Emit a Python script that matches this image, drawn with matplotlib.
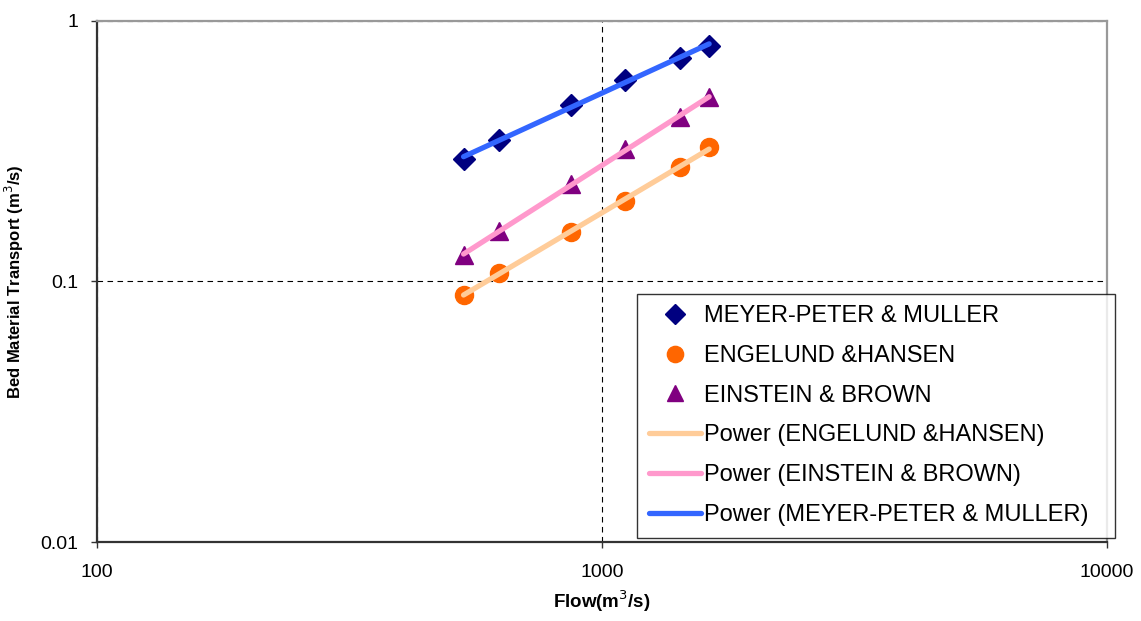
import numpy as np
import matplotlib.pyplot as plt

plt.rcParams['font.family'] = ['Liberation Sans', 'DejaVu Sans']

# Flow (m3/s) and bed material transport (m3/s) for each formula
flow = [532, 625, 868, 1111, 1428, 1630]
meyer_peter = [0.295, 0.349, 0.476, 0.594, 0.721, 0.802]
engelund = [0.0888, 0.108, 0.155, 0.204, 0.275, 0.328]
einstein = [0.126, 0.156, 0.237, 0.323, 0.428, 0.511]

fig = plt.figure(figsize=(11.41, 6.21), dpi=100)
ax = fig.add_axes([0.085, 0.1272, 0.8852, 0.839])

# Points
h_mpm, = ax.plot(flow, meyer_peter, linestyle='none', marker='D', color='#000080',
                 markersize=11, label='MEYER-PETER & MULLER')
h_eng, = ax.plot(flow, engelund, linestyle='none', marker='o', color='#FF6600',
                 markersize=13, label='ENGELUND &HANSEN')
h_ein, = ax.plot(flow, einstein, linestyle='none', marker='^', color='#800080',
                 markersize=13, label='EINSTEIN & BROWN')


# Power trendline y = a * x^b fitted in log space
def power_fit(x, y):
    b, log_a = np.polyfit(np.log(x), np.log(y), 1)
    xs = np.array([min(x), max(x)])
    return xs, np.exp(log_a) * xs ** b


x_fit, y_fit = power_fit(flow, engelund)
t_eng, = ax.plot(x_fit, y_fit, color='#FFCC99', lw=3.8, solid_capstyle='round',
                 label='Power (ENGELUND &HANSEN)')
x_fit, y_fit = power_fit(flow, einstein)
t_ein, = ax.plot(x_fit, y_fit, color='#FF99CC', lw=3.8, solid_capstyle='round',
                 label='Power (EINSTEIN & BROWN)')
x_fit, y_fit = power_fit(flow, meyer_peter)
t_mpm, = ax.plot(x_fit, y_fit, color='#3366FF', lw=3.8, solid_capstyle='round',
                 label='Power (MEYER-PETER & MULLER)')

ax.set_xscale('log')
ax.set_yscale('log')
ax.set_xlim(100, 10000)
ax.set_ylim(0.01, 1)
ax.set_xticks([100, 1000, 10000])
ax.set_xticklabels(['100', '1000', '10000'])
ax.set_yticks([0.01, 0.1, 1])
ax.set_yticklabels(['0.01', '0.1', '1'])
ax.minorticks_off()
ax.tick_params(labelsize=14, length=4.5, width=1, color='#333333')
ax.tick_params(axis='x', pad=11)
ax.tick_params(axis='y', pad=9)

ax.grid(True, which='major', linestyle=(0, (5, 4)), color='black', lw=0.8)
ax.set_axisbelow(True)

for side in ['left', 'bottom']:
    ax.spines[side].set_color('#333333')
    ax.spines[side].set_linewidth(1.6)
for side in ['top', 'right']:
    ax.spines[side].set_color('#999999')
    ax.spines[side].set_linewidth(1.6)

ax.set_xlabel('Flow(m$^3$/s)', fontsize=13.5, fontweight='bold', labelpad=6)
ax.set_ylabel('Bed Material Transport (m$^3$/s)', fontsize=12, fontweight='bold', labelpad=10)

leg = ax.legend(handles=[h_mpm, h_eng, h_ein, t_eng, t_ein, t_mpm],
                loc='center left', bbox_to_anchor=(0.5347, 0.0096, 0.473, 0.466),
                mode='expand', fontsize=17, frameon=True, fancybox=False,
                handlelength=2.2, handletextpad=0.15, borderpad=0.5,
                labelspacing=0.75, borderaxespad=0, markerscale=0.9)
leg.get_frame().set_edgecolor('black')
leg.get_frame().set_linewidth(1.0)
leg.set_zorder(5)

fig.savefig('out.png', dpi=100)
